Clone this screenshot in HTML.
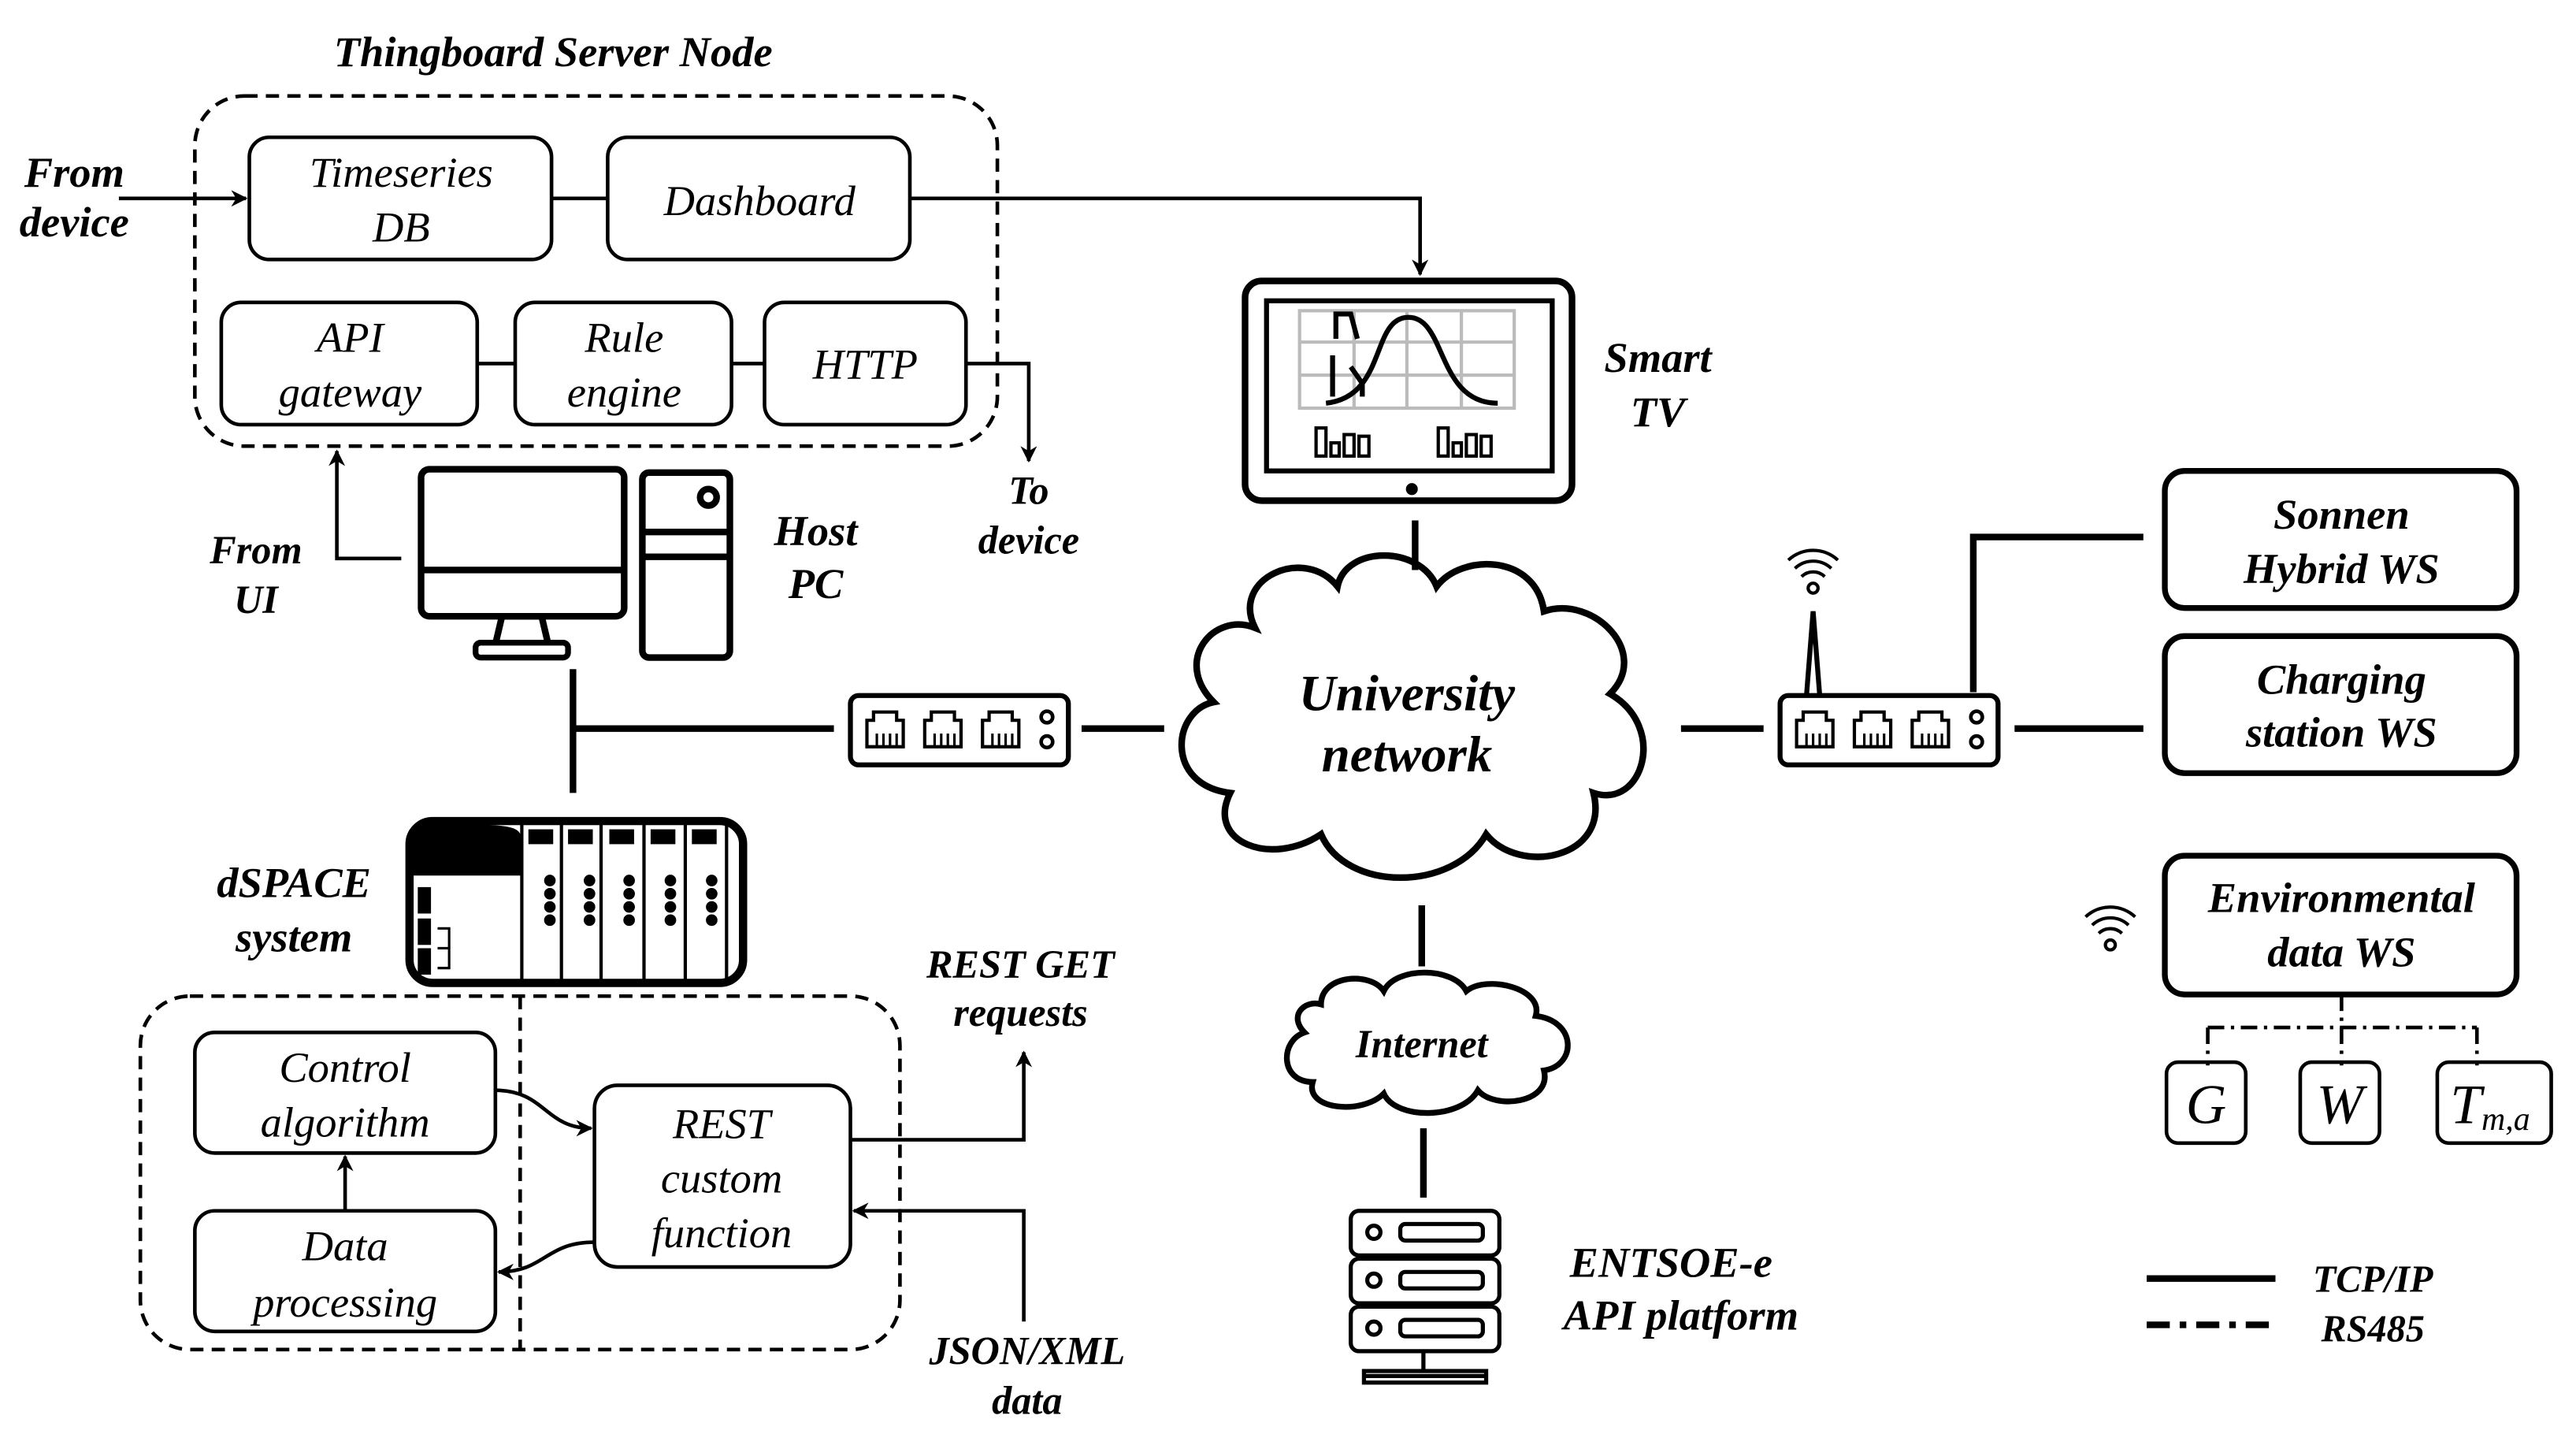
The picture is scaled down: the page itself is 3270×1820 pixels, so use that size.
<!DOCTYPE html>
<html><head><meta charset="utf-8"><style>
html,body{margin:0;padding:0;background:#fff;}
svg{display:block;}
text{font-family:"Liberation Serif",serif;font-style:italic;fill:#000;text-anchor:middle;}
.b{font-weight:bold;}
</style></head><body>
<svg width="3270" height="1820" viewBox="0 0 1560 868" xmlns="http://www.w3.org/2000/svg">
<defs>
<marker id="ar" markerWidth="10" markerHeight="10" refX="9" refY="5" orient="auto" markerUnits="userSpaceOnUse"><path d="M0,0 L10,5 L0,10 L3,5 Z" fill="#000"/></marker>
<g id="wifi" fill="none" stroke="#000" stroke-width="2"><circle cx="0" cy="0" r="3"/><path d="M-7,-7 A10,10 0 0 1 7,-7"/><path d="M-11,-12 A16,16 0 0 1 11,-12"/><path d="M-15,-17 A22,22 0 0 1 15,-17"/></g>
<g id="port" fill="none" stroke="#000" stroke-width="2"><path d="M0,24 L0,8 L4,8 L4,3 L18,3 L18,8 L22,8 L22,24 Z"/><path d="M6,24 V16 M10,24 V16 M14,24 V16 M18,24 V16" stroke-width="1.5"/></g>
</defs>
<g fill="none" stroke="#000" stroke-width="2.2">
<rect x="118" y="58" width="486" height="212" rx="30" stroke-dasharray="8 5"/>
<rect x="151" y="83" width="183" height="74" rx="12"/>
<rect x="368" y="83" width="183" height="74" rx="12"/>
<rect x="134" y="183" width="155" height="74" rx="12"/>
<rect x="312" y="183" width="131" height="74" rx="12"/>
<rect x="463" y="183" width="122" height="74" rx="12"/>
<path d="M334,120 H368 M289,220 H312 M443,220 H463"/>
<path d="M551,120 H860 V166" marker-end="url(#ar)"/>
<path d="M72,120 H149" marker-end="url(#ar)"/>
<path d="M585,220 H623 V279" marker-end="url(#ar)"/>
<path d="M243,338 H204 V273" marker-end="url(#ar)"/>
<rect x="255" y="284" width="123" height="89" rx="5" stroke-width="4"/>
<path d="M255,345 H378" stroke-width="4"/>
<path d="M316,373 H304 L300,390 M316,373 H328 L332,390" stroke-width="4"/>
<rect x="288" y="389" width="56" height="9" rx="3" stroke-width="3.5"/>
<rect x="389" y="286" width="53" height="112" rx="4" stroke-width="4"/>
<path d="M389,322 H442 M389,337 H442" stroke-width="4"/>
<circle cx="429" cy="301" r="5" stroke-width="4"/>
<path d="M347,405 V480 M347,441 H505 M655,441 H705" stroke-width="4"/>
<rect x="515" y="421" width="132" height="42" rx="5" stroke-width="3"/>
<rect x="1078" y="421" width="132" height="42" rx="5" stroke-width="3"/>
<circle cx="634" cy="434" r="3.5"/><circle cx="634" cy="449" r="3.5"/>
<circle cx="1197" cy="434" r="3.5"/><circle cx="1197" cy="449" r="3.5"/>
<path d="M1018,441 H1068 M1220,441 H1298 M1195,419 V325 H1298 M857,315 V345 M861,548 V585 M862,683 V725" stroke-width="4"/>
<path d="M1094,421 L1098,370 L1102,421" stroke-width="3"/>
<path d="M760,380 C745,350 790,330 810,355 C815,330 860,330 870,355 C885,335 930,335 935,370 C965,360 1000,395 975,420 C1010,440 995,490 965,480 C975,520 920,530 900,505 C880,540 815,540 800,505 C770,525 730,510 745,480 C705,475 710,430 735,425 C710,400 735,370 760,380 Z" stroke-width="4"/>
<path d="M800,608 C800,590 830,588 838,600 C845,585 880,585 888,600 C900,590 935,598 930,615 C955,618 955,645 935,648 C940,668 905,672 895,660 C885,678 845,678 838,662 C825,675 790,672 795,655 C775,655 775,630 790,625 C780,615 790,605 800,608 Z" stroke-width="3.5"/>
<rect x="754" y="170" width="198" height="133" rx="10" stroke-width="4"/>
<rect x="767" y="182" width="173" height="103" stroke-width="3"/>
<g stroke="#bbb" stroke-width="2"><rect x="787" y="188" width="130" height="59"/><path d="M787,207 H917 M787,227 H917 M820,188 V247 M852,188 V247 M885,188 V247"/></g>
<path d="M803,244 C840,240 830,192 853,192 C876,192 870,244 907,244" stroke-width="3"/>
<path d="M809,205 V190 H818 L822,205 M807,215 V240 M818,222 L825,232 V240" stroke-width="3"/>
<g stroke-width="2"><rect x="797" y="259" width="6" height="17"/><rect x="806" y="268" width="5" height="8"/><rect x="814" y="263" width="6" height="13"/><rect x="823" y="264" width="6" height="12"/><rect x="871" y="259" width="6" height="17"/><rect x="880" y="268" width="5" height="8"/><rect x="888" y="263" width="6" height="13"/><rect x="897" y="264" width="6" height="12"/></g>
<circle cx="855" cy="296" r="2.5" fill="#000"/>
<rect x="1311" y="285" width="213" height="83" rx="12" stroke-width="3.5"/>
<rect x="1311" y="385" width="213" height="83" rx="12" stroke-width="3.5"/>
<rect x="1311" y="518" width="213" height="84" rx="12" stroke-width="3.5"/>
<path d="M1418,602 V645 M1337,622 H1500 M1337,622 V645 M1500,622 V645" stroke-dasharray="10 4 2 4"/>
<rect x="1312" y="643" width="48" height="49" rx="7"/>
<rect x="1393" y="643" width="48" height="49" rx="7"/>
<rect x="1476" y="643" width="69" height="49" rx="7"/>
<path d="M1300,774 H1378" stroke-width="4"/>
<path d="M1300,802 H1378" stroke-width="4" stroke-dasharray="14 6 4 6"/>
<g stroke-width="2.5"><rect x="818" y="733" width="90" height="27" rx="5"/><rect x="818" y="762" width="90" height="27" rx="5"/><rect x="818" y="791" width="90" height="27" rx="5"/>
<circle cx="832" cy="746" r="4"/><circle cx="832" cy="775" r="4"/><circle cx="832" cy="804" r="4"/>
<rect x="848" y="741" width="50" height="10" rx="3"/><rect x="848" y="770" width="50" height="10" rx="3"/><rect x="848" y="799" width="50" height="10" rx="3"/>
<path d="M862,818 V831 M826,833 H900"/><rect x="826" y="830" width="74" height="7"/></g>
<rect x="248" y="497" width="202" height="98" rx="14" stroke-width="5"/>
<path d="M250,530 H316 V510 C316,499 310,499 262,499 C252,499 250,505 250,512 Z" fill="#000" stroke="none"/>
<path d="M316,499 V593 M340,499 V593 M364,499 V593 M390,499 V593 M415,499 V593 M440,499 V593" stroke-width="2"/>
<g fill="#000" stroke="none">
<rect x="320" y="502" width="15" height="9"/><rect x="344" y="502" width="15" height="9"/><rect x="369" y="502" width="15" height="9"/><rect x="394" y="502" width="15" height="9"/><rect x="419" y="502" width="15" height="9"/>
<rect x="253" y="537" width="8" height="16"/><rect x="253" y="556" width="8" height="16"/><rect x="253" y="574" width="8" height="16"/>
</g>
<g fill="#000" stroke="none">
<circle cx="333" cy="533" r="3.5"/><circle cx="333" cy="541" r="3.5"/><circle cx="333" cy="549" r="3.5"/><circle cx="333" cy="557" r="3.5"/>
<circle cx="357" cy="533" r="3.5"/><circle cx="357" cy="541" r="3.5"/><circle cx="357" cy="549" r="3.5"/><circle cx="357" cy="557" r="3.5"/>
<circle cx="381" cy="533" r="3.5"/><circle cx="381" cy="541" r="3.5"/><circle cx="381" cy="549" r="3.5"/><circle cx="381" cy="557" r="3.5"/>
<circle cx="406" cy="533" r="3.5"/><circle cx="406" cy="541" r="3.5"/><circle cx="406" cy="549" r="3.5"/><circle cx="406" cy="557" r="3.5"/>
<circle cx="431" cy="533" r="3.5"/><circle cx="431" cy="541" r="3.5"/><circle cx="431" cy="549" r="3.5"/><circle cx="431" cy="557" r="3.5"/>
</g>
<path d="M265,562 H272 V574 H265 M265,574 H272 V586 H265" stroke-width="1.5"/>
<rect x="85" y="603" width="460" height="214" rx="30" stroke-dasharray="8 5"/>
<path d="M315,603 V817" stroke-dasharray="8 5"/>
<rect x="118" y="625" width="182" height="73" rx="12"/>
<rect x="118" y="733" width="182" height="73" rx="12"/>
<rect x="360" y="657" width="155" height="110" rx="14"/>
<path d="M209,733 V700" marker-end="url(#ar)"/>
<path d="M300,660 C330,660 330,683 358,683" marker-end="url(#ar)"/>
<path d="M360,752 C330,752 330,770 302,770" marker-end="url(#ar)"/>
<path d="M515,690 H620 V637" marker-end="url(#ar)"/>
<path d="M620,800 V733 H517" marker-end="url(#ar)"/>
</g>
<use href="#wifi" x="1098" y="356"/>
<use href="#wifi" x="1278" y="572"/>
<use href="#port" x="525" y="428"/><use href="#port" x="560" y="428"/><use href="#port" x="595" y="428"/>
<use href="#port" x="1088" y="428"/><use href="#port" x="1123" y="428"/><use href="#port" x="1158" y="428"/>
<g font-size="26">
<text x="335" y="40" class="b">Thingboard Server Node</text>
<text x="45" y="113" class="b">From</text><text x="45" y="143" class="b">device</text>
<text x="243" y="113">Timeseries</text><text x="243" y="146">DB</text>
<text x="460" y="130">Dashboard</text>
<text x="212" y="213">API</text><text x="212" y="246">gateway</text>
<text x="378" y="213">Rule</text><text x="378" y="246">engine</text>
<text x="524" y="229">HTTP</text>
<text x="623" y="305" font-size="24" class="b">To</text><text x="623" y="335" font-size="24" class="b">device</text>
<text x="155" y="341" font-size="24" class="b">From</text><text x="155" y="371" font-size="24" class="b">UI</text>
<text x="494" y="330" class="b">Host</text><text x="494" y="362" class="b">PC</text>
<text x="1004" y="225" class="b">Smart</text><text x="1004" y="258" class="b">TV</text>
<text x="852" y="430" font-size="31" class="b">University</text><text x="852" y="467" font-size="31" class="b">network</text>
<text x="861" y="640" font-size="24" class="b">Internet</text>
<text x="1012" y="773" font-size="26" class="b">ENTSOE-e</text><text x="1018" y="805" font-size="26" class="b">API platform</text>
<text x="1418" y="320" class="b">Sonnen</text><text x="1418" y="353" class="b">Hybrid WS</text>
<text x="1418" y="420" class="b">Charging</text><text x="1418" y="452" class="b">station WS</text>
<text x="1418" y="552" class="b">Environmental</text><text x="1418" y="585" class="b">data WS</text>
<text x="1336" y="680" font-size="34">G</text>
<text x="1417" y="680" font-size="34">W</text>
<text x="1508" y="680" font-size="34">T<tspan font-size="20" dy="4">m,a</tspan></text>
<text x="1437" y="782" font-size="23" class="b">TCP/IP</text><text x="1437" y="812" font-size="23" class="b">RS485</text>
<text x="178" y="543" class="b">dSPACE</text><text x="178" y="576" class="b">system</text>
<text x="209" y="655">Control</text><text x="209" y="688">algorithm</text>
<text x="209" y="763">Data</text><text x="209" y="797">processing</text>
<text x="437" y="689">REST</text><text x="437" y="722">custom</text><text x="437" y="755">function</text>
<text x="618" y="592" font-size="24" class="b">REST GET</text><text x="618" y="621" font-size="24" class="b">requests</text>
<text x="622" y="826" font-size="24" class="b">JSON/XML</text><text x="622" y="856" font-size="24" class="b">data</text>
</g>
</svg>
</body></html>
